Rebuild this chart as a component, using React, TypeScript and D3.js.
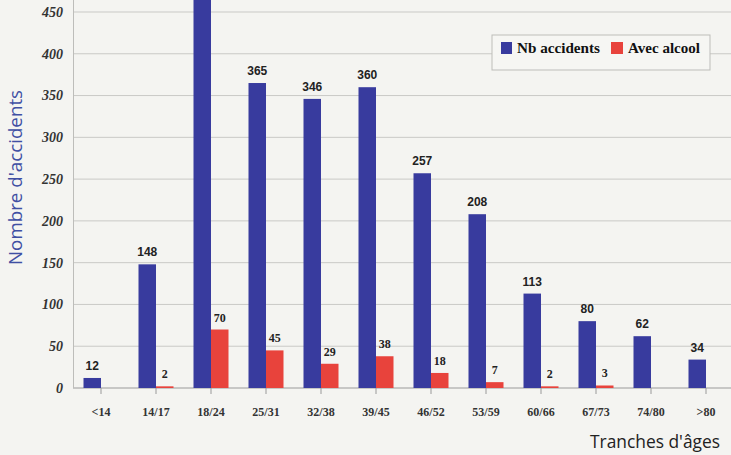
import React from "react";
import * as d3 from "d3";

const categories = ["<14", "14/17", "18/24", "25/31", "32/38", "39/45", "46/52", "53/59", "60/66", "67/73", "74/80", ">80"];
const nbAccidents = [12, 148, 497, 365, 346, 360, 257, 208, 113, 80, 62, 34];
const avecAlcool: (number | null)[] = [null, 2, 70, 45, 29, 38, 18, 7, 2, 3, null, null];
const yTicks = [0, 50, 100, 150, 200, 250, 300, 350, 400, 450];
const seriesNames = ["Nb accidents", "Avec alcool"];

const W = 731;
const H = 455;
const BLUE = "#383b9e";
const RED = "#e8433c";

export default function App() {
  const x0 = d3.scaleBand<string>().domain(categories).range([73.5, 733.5]);
  const x1 = d3.scaleBand<string>().domain(seriesNames).range([10, 45]);
  const y = d3.scaleLinear().domain([0, 450]).range([388, 12]);
  const serif = "'Liberation Serif', 'Times New Roman', serif";
  const sans = "'Liberation Sans', Arial, sans-serif";
  const titleFont = "'Open Sans', 'DejaVu Sans', sans-serif";

  return (
    <div style={{ position: "absolute", left: 0, top: 0 }}>
      <svg width={W} height={H} style={{ display: "block", background: "#f4f4f1" }}>
        <rect x={0} y={0} width={W} height={H} fill="#f4f4f1" />
        {yTicks.map((t) => (
          <line key={"g" + t} x1={73} x2={W} y1={y(t)} y2={y(t)} stroke={t === 0 ? "#9a9a9a" : "#c9c9c6"} strokeWidth={1} />
        ))}
        <line x1={73.5} x2={73.5} y1={0} y2={y(0)} stroke="#bdbdba" strokeWidth={1} />
        {yTicks.map((t) => (
          <text key={"yt" + t} x={63} y={y(t)} dy="0.35em" textAnchor="end" fontFamily={serif} fontStyle="italic" fontWeight="bold" fontSize={14} fill="#333">
            {t}
          </text>
        ))}
        {categories.map((c) => {
          const cx = (x0(c) as number) + x0.bandwidth() / 2;
          return <line key={"xt" + c} x1={cx} x2={cx} y1={y(0)} y2={y(0) + 6} stroke="#9a9a9a" />;
        })}
        {categories.map((c, i) => {
          const bx = x0(c) as number;
          const v = nbAccidents[i];
          const r = avecAlcool[i];
          const ly = y(v) - 8;
          return (
            <g key={"b" + c}>
              <rect x={bx + (x1(seriesNames[0]) as number)} y={y(v)} width={x1.bandwidth()} height={y(0) - y(v)} fill={BLUE} />
              {ly > 12 && (
                <text x={bx + (x1(seriesNames[0]) as number) + x1.bandwidth() / 2} y={ly} textAnchor="middle" fontFamily={sans} fontWeight="bold" fontSize={12} fill="#222">
                  {v}
                </text>
              )}
              {r !== null && (
                <>
                  <rect x={bx + (x1(seriesNames[1]) as number)} y={y(r)} width={x1.bandwidth()} height={Math.max(y(0) - y(r), 0)} fill={RED} />
                  <text x={bx + (x1(seriesNames[1]) as number) + x1.bandwidth() / 2} y={y(r) - 8} textAnchor="middle" fontFamily={serif} fontWeight="bold" fontSize={12} fill="#222">
                    {r}
                  </text>
                </>
              )}
            </g>
          );
        })}
        {categories.map((c) => (
          <text key={"xl" + c} x={(x0(c) as number) + x0.bandwidth() / 2} y={412} dy="0.35em" textAnchor="middle" fontFamily={serif} fontWeight="bold" fontSize={12} fill="#333">
            {c}
          </text>
        ))}
        <rect x={492} y={35} width={218} height={35} fill="#f6f6f3" stroke="#bdbdba" />
        <rect x={501} y={42} width={11} height={12} fill={BLUE} />
        <text x={517} y={53} fontFamily={serif} fontWeight="bold" fontSize={14} textLength={83} lengthAdjust="spacingAndGlyphs" fill="#111">{seriesNames[0]}</text>
        <rect x={611} y={42} width={12} height={12} fill={RED} />
        <text x={628} y={53} fontFamily={serif} fontWeight="bold" fontSize={14} textLength={72} lengthAdjust="spacingAndGlyphs" fill="#111">{seriesNames[1]}</text>
        <text transform="translate(22,265) rotate(-90)" fontFamily={titleFont} fontSize={18} textLength={175} lengthAdjust="spacingAndGlyphs" fill="#3f4fa3">
          Nombre d'accidents
        </text>
        <text x={590} y={448} fontFamily={titleFont} fontSize={18} textLength={130} lengthAdjust="spacingAndGlyphs" fill="#222">
          Tranches d'âges
        </text>
      </svg>
    </div>
  );
}
